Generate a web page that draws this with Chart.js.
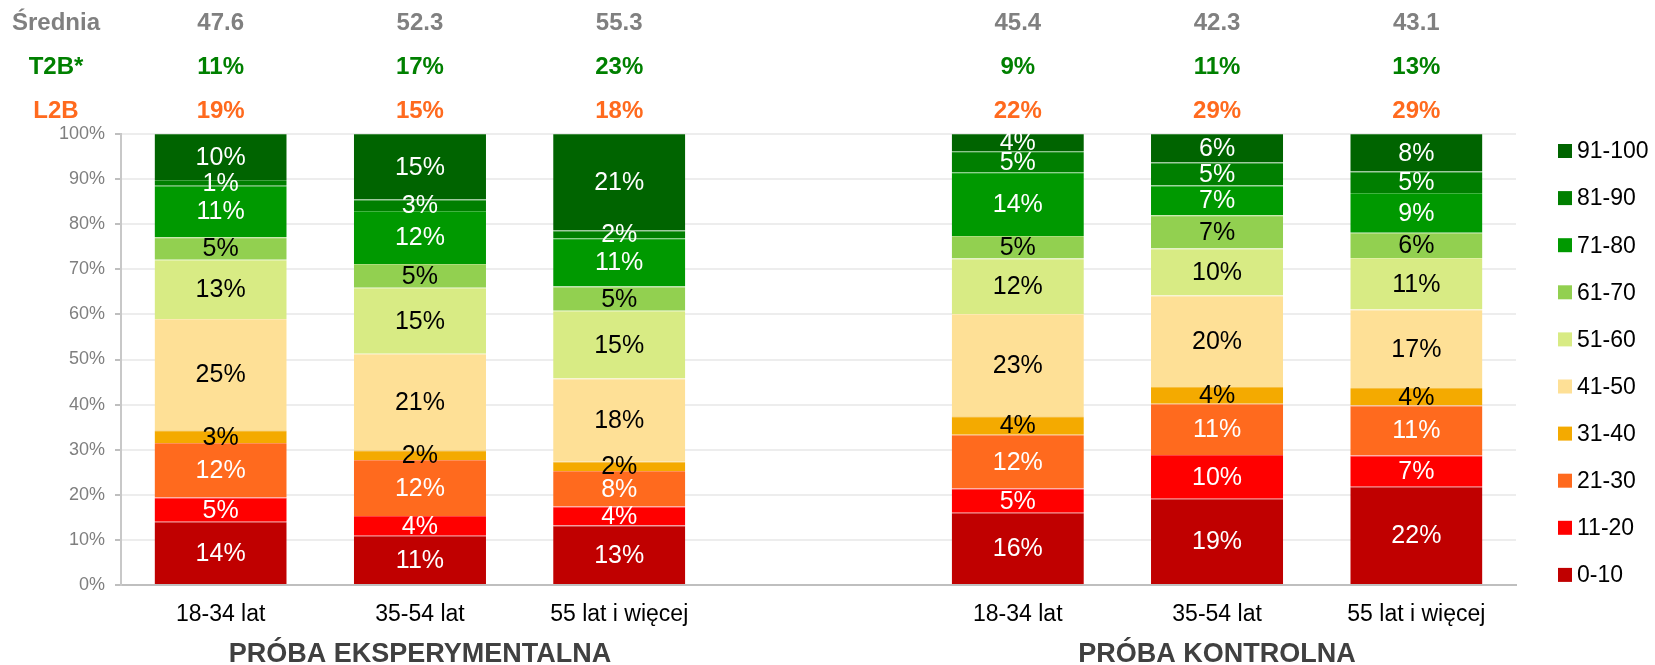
<!DOCTYPE html>
<html>
<head>
<meta charset="utf-8">
<script src="https://cdn.jsdelivr.net/npm/chart.js@4/dist/chart.umd.min.js"></script>
<style>
  html, body { margin: 0; padding: 0; background: #fff; }
  #wrap { width: 1655px; height: 665px; }
</style>
</head>
<body>
<div id="wrap"><canvas id="c"></canvas></div>
<script>
const categories = ['18-34 lat', '35-54 lat', '55 lat i więcej', '', '18-34 lat', '35-54 lat', '55 lat i więcej'];
const bands = ['0-10', '11-20', '21-30', '31-40', '41-50', '51-60', '61-70', '71-80', '81-90', '91-100'];

// share of answers per band, one value per category (gap slot is null)
const b0_10   = [14.0, 10.9, 13.2, null, 16.0, 19.1, 21.8];
const b11_20  = [5.4, 4.4, 4.2, null, 5.4, 9.7, 6.9];
const b21_30  = [12.1, 12.4, 7.9, null, 11.9, 11.4, 11.1];
const b31_40  = [2.8, 2.2, 2.1, null, 4.1, 3.7, 3.9];
const b41_50  = [24.7, 21.4, 18.4, null, 22.7, 20.3, 17.4];
const b51_60  = [13.1, 14.6, 15.0, null, 12.3, 10.4, 11.4];
const b61_70  = [5.0, 5.3, 5.4, null, 5.0, 7.4, 5.6];
const b71_80  = [11.4, 11.7, 10.7, null, 14.1, 6.6, 8.8];
const b81_90  = [1.3, 2.6, 1.7, null, 4.7, 5.1, 4.8];
const b91_100 = [10.2, 14.5, 21.4, null, 3.8, 6.3, 8.3];

const srednia = ['47.6', '52.3', '55.3', null, '45.4', '42.3', '43.1'];
const t2b = [11, 17, 23, null, 9, 11, 13];
const l2b = [19, 15, 18, null, 22, 29, 29];
const groups = ['PRÓBA EKSPERYMENTALNA', 'PRÓBA KONTROLNA'];
const groupCenters = [1, 5]; // category index under which each group title sits

const series = [b0_10, b11_20, b21_30, b31_40, b41_50, b51_60, b61_70, b71_80, b81_90, b91_100];
const colors = ['#C00000', '#FF0000', '#FF6A1E', '#F4AA00', '#FEE096', '#D8EB84', '#92D050', '#009900', '#007F00', '#006400'];
const darkText = [false, false, false, true, true, true, true, false, false, false];

const FONT = "'Liberation Sans', Arial, sans-serif";

function lighten(hex, t) {
    const n = parseInt(hex.slice(1), 16);
    const mix = c => Math.round(c + (255 - c) * t);
    return `rgb(${mix(n >> 16)},${mix((n >> 8) & 255)},${mix(n & 255)})`;
}

const datasets = series.map((data, i) => ({
    label: bands[i],
    data,
    backgroundColor: colors[i],
    borderColor: lighten(colors[i], 0.25),
    borderWidth: { top: 1, left: 0, right: 0, bottom: 0 },
    borderSkipped: false,
    categoryPercentage: 1,
    barPercentage: 0.663
}));

const overlay = {
    id: 'overlay',
    afterDatasetsDraw(chart) {
        const { ctx } = chart;
        ctx.save();
        ctx.font = `25px ${FONT}`;
        ctx.textAlign = 'center';
        ctx.textBaseline = 'middle';
        chart.data.datasets.forEach((ds, i) => {
            const meta = chart.getDatasetMeta(i);
            meta.data.forEach((bar, j) => {
                const v = ds.data[j];
                if (v == null) return;
                ctx.fillStyle = darkText[i] ? '#000' : '#fff';
                ctx.fillText(Math.round(v) + '%', bar.x, (bar.y + bar.base) / 2 + 1);
            });
        });
        ctx.restore();
    },
    afterDraw(chart) {
        const { ctx } = chart;
        const x = chart.scales.x;
        ctx.save();
        ctx.textAlign = 'center';
        ctx.textBaseline = 'middle';
        ctx.font = `bold 24px ${FONT}`;

        const rows = [
            { name: 'Średnia', vals: srednia, color: '#808080', y: 23 },
            { name: 'T2B*', vals: t2b.map(v => v == null ? null : v + '%'), color: '#008000', y: 67 },
            { name: 'L2B', vals: l2b.map(v => v == null ? null : v + '%'), color: '#FF6A1E', y: 111 }
        ];
        rows.forEach(r => {
            ctx.fillStyle = r.color;
            ctx.fillText(r.name, 56, r.y);
            r.vals.forEach((v, j) => {
                if (v == null) return;
                ctx.fillText(v, x.getPixelForValue(j), r.y);
            });
        });

        ctx.font = `bold 27px ${FONT}`;
        ctx.fillStyle = '#404040';
        groups.forEach((g, k) => ctx.fillText(g, x.getPixelForValue(groupCenters[k]), 655));

        // legend, top band first
        ctx.font = `23px ${FONT}`;
        ctx.textAlign = 'left';
        for (let k = 0; k < bands.length; k++) {
            const i = bands.length - 1 - k;
            const cy = 151 + k * 47.1;
            ctx.fillStyle = colors[i];
            ctx.fillRect(1558, cy - 7, 14, 14);
            ctx.fillStyle = '#000';
            ctx.fillText(bands[i], 1577, cy + 1);
        }
        ctx.restore();
    }
};

new Chart(document.getElementById('c'), {
    type: 'bar',
    data: { labels: categories, datasets },
    plugins: [overlay],
    options: {
        responsive: true,
        maintainAspectRatio: false,
        animation: false,
        layout: { padding: { top: 134, right: 139, left: 0, bottom: 0 } },
        plugins: { legend: { display: false }, tooltip: { enabled: false } },
        scales: {
            x: {
                stacked: true,
                grid: { display: false, drawTicks: false },
                border: { display: true, color: '#BFBFBF', width: 2 },
                ticks: { color: '#000', font: { family: FONT, size: 23 }, padding: 16, maxRotation: 0, autoSkip: false },
                afterFit(s) { s.height = 80; }
            },
            y: {
                stacked: true,
                min: 0,
                max: 100,
                grid: { color: '#EDEDED', lineWidth: 2, tickColor: '#BFBFBF', tickLength: 6 },
                border: { display: true, color: '#C8C8C8', width: 2 },
                ticks: { stepSize: 10, color: '#7F7F7F', font: { family: FONT, size: 18 }, padding: 10, callback: v => v + '%' },
                afterFit(s) { s.width = 121; }
            }
        }
    }
});
</script>
</body>
</html>
